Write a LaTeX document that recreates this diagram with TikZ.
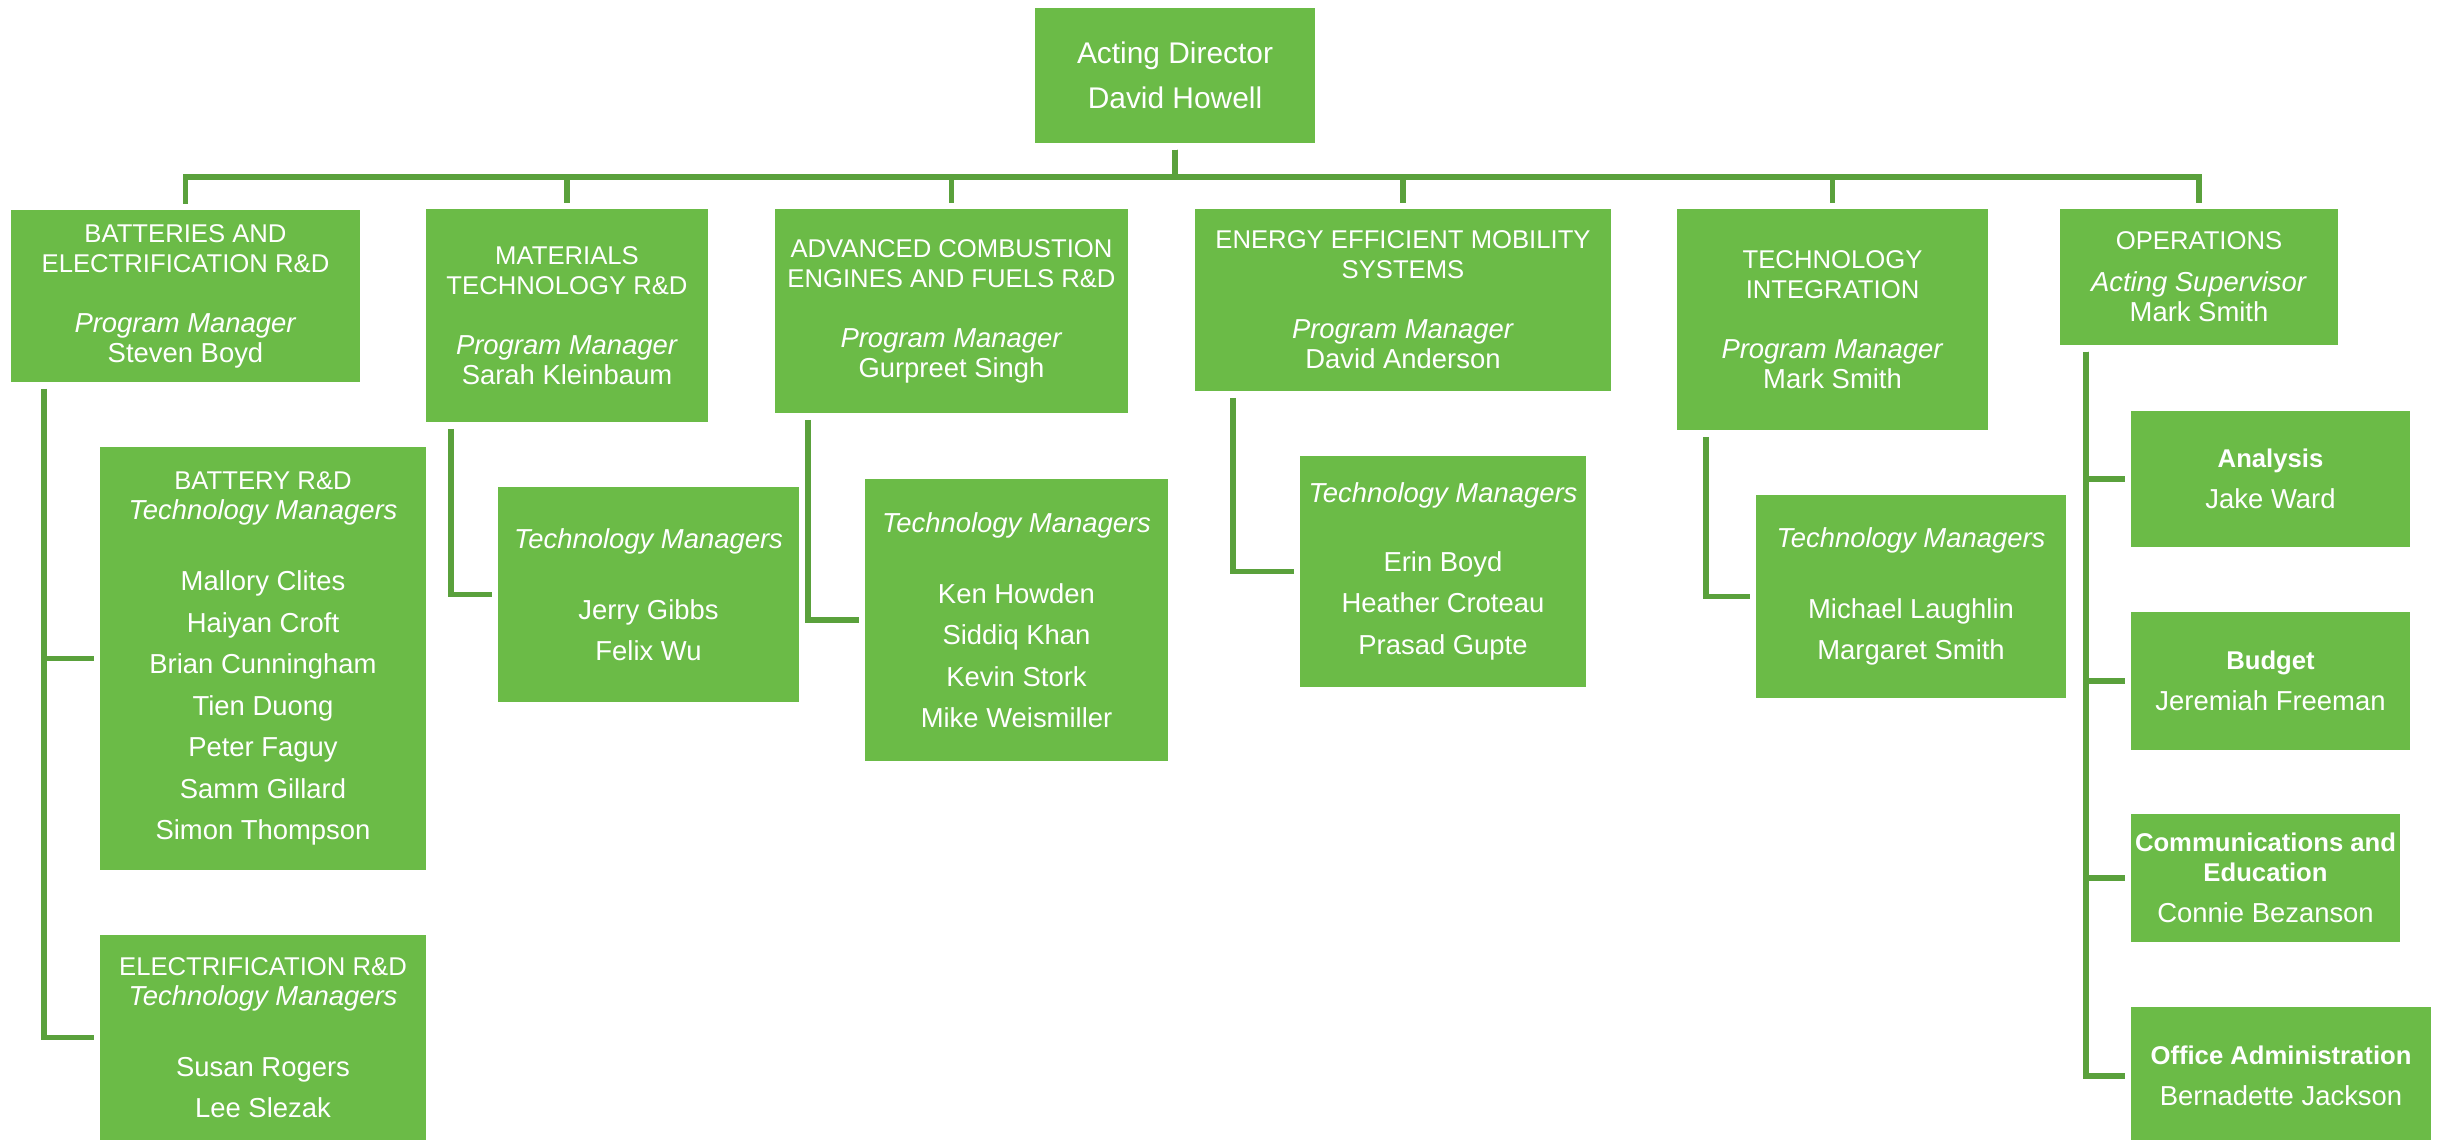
\documentclass[tikz,border=0pt]{standalone}
\usepackage{fontspec}
\setmainfont{Liberation Sans}
\definecolor{boxgreen}{RGB}{107,187,71}
\definecolor{linkgreen}{RGB}{90,161,60}
\newcommand\unithead[1]{{\fontsize{7.3pt}{8.54pt}\selectfont #1}}
\tikzset {
  unitbox/.style={fill=boxgreen, text=white, inner sep=0pt, align=center,
    font=\fontsize{7.8pt}{8.54pt}\selectfont},
  teambox/.style={unitbox, font=\fontsize{7.8pt}{11.8pt}\selectfont},
  link/.style={draw=linkgreen, line width=1.6pt, shorten <=0.06cm, shorten >=0.05cm}
}

\begin{document}
\begin{tikzpicture}[x=0.01cm, y=-0.01cm]
\useasboundingbox (0,0) rectangle (2440,1140);

\node[unitbox, minimum width=2.79cm, minimum height=1.35cm,
  font=\fontsize{8.5pt}{12.8pt}\selectfont] (dir) at (1175,75.5)
  {Acting Director\\David Howell};

% program offices
\node[unitbox, minimum width=3.49cm, minimum height=1.72cm] (bae) at (185.5,296)
  {\unithead{BATTERIES AND}\\\unithead{ELECTRIFICATION R\&D}\\[8.54pt]\textit{Program Manager}\\Steven Boyd};
\node[unitbox, minimum width=2.82cm, minimum height=2.13cm] (mat) at (567,315.5)
  {\unithead{MATERIALS}\\\unithead{TECHNOLOGY R\&D}\\[8.54pt]\textit{Program Manager}\\Sarah Kleinbaum};
\node[unitbox, minimum width=3.53cm, minimum height=2.04cm] (ace) at (951.5,311)
  {\unithead{ADVANCED COMBUSTION}\\\unithead{ENGINES AND FUELS R\&D}\\[8.54pt]\textit{Program Manager}\\Gurpreet Singh};
\node[unitbox, minimum width=4.16cm, minimum height=1.82cm] (eem) at (1403,300)
  {\unithead{ENERGY EFFICIENT MOBILITY}\\\unithead{SYSTEMS}\\[8.54pt]\textit{Program Manager}\\David Anderson};
\node[unitbox, minimum width=3.11cm, minimum height=2.21cm] (tin) at (1832.5,319.5)
  {\unithead{TECHNOLOGY}\\\unithead{INTEGRATION}\\[8.54pt]\textit{Program Manager}\\Mark Smith};
\node[unitbox, minimum width=2.78cm, minimum height=1.36cm] (ops) at (2199,277)
  {\unithead{OPERATIONS}\\[3.4pt]\textit{Acting Supervisor}\\Mark Smith};

% technology managers
\node[teambox, minimum width=3.26cm, minimum height=4.23cm] (bat) at (263,658.5)
  {\unithead{BATTERY R\&D}\\[-3.26pt]\textit{Technology Managers}\\[8.4pt]Mallory Clites\\Haiyan Croft\\Brian Cunningham\\Tien Duong\\Peter Faguy\\Samm Gillard\\Simon Thompson};
\node[teambox, minimum width=3.26cm, minimum height=2.05cm] (ele) at (263,1037.5)
  {\unithead{ELECTRIFICATION R\&D}\\[-3.26pt]\textit{Technology Managers}\\[8.4pt]Susan Rogers\\Lee Slezak};
\node[teambox, minimum width=3.01cm, minimum height=2.15cm] (mtm) at (648.5,594.5)
  {\textit{Technology Managers}\\[8.4pt]Jerry Gibbs\\Felix Wu};
\node[teambox, minimum width=3.03cm, minimum height=2.82cm] (atm) at (1016.5,620)
  {\textit{Technology Managers}\\[8.4pt]Ken Howden\\Siddiq Khan\\Kevin Stork\\Mike Weismiller};
\node[teambox, minimum width=2.86cm, minimum height=2.31cm] (etm) at (1443,571.5)
  {\textit{Technology Managers}\\[7.7pt]Erin Boyd\\Heather Croteau\\Prasad Gupte};
\node[teambox, minimum width=3.10cm, minimum height=2.03cm] (ttm) at (1911,596.5)
  {\textit{Technology Managers}\\[8.4pt]Michael Laughlin\\Margaret Smith};

% operations teams
\node[teambox, minimum width=2.79cm, minimum height=1.36cm] (ana) at (2270.5,479)
  {\unithead{\textbf{Analysis}}\\Jake Ward};
\node[teambox, minimum width=2.79cm, minimum height=1.37cm] (bud) at (2270.5,681)
  {\unithead{\textbf{Budget}}\\Jeremiah Freeman};
\node[teambox, minimum width=2.69cm, minimum height=1.28cm] (com) at (2265.5,878)
  {\unithead{\textbf{Communications and}}\\[-3.26pt]\unithead{\textbf{Education}}\\Connie Bezanson};
\node[teambox, minimum width=3.00cm, minimum height=1.38cm] (off) at (2281,1076)
  {\unithead{\textbf{Office Administration}}\\Bernadette Jackson};

\foreach \dept in {bae,mat,ace,eem,tin,ops}
  \draw[link] (dir.south) -- ++(0,33) -| (\dept.north);

\foreach \xpos/\head/\team in {44/bae/bat,44/bae/ele,451/mat/mtm,808/ace/atm,
    1233/eem/etm,1706/tin/ttm,2086/ops/ana,2086/ops/bud,2086/ops/com,2086/ops/off}
  \draw[link] (\xpos,0 |- \head.south) |- (\team);
\end{tikzpicture}
\end{document}
